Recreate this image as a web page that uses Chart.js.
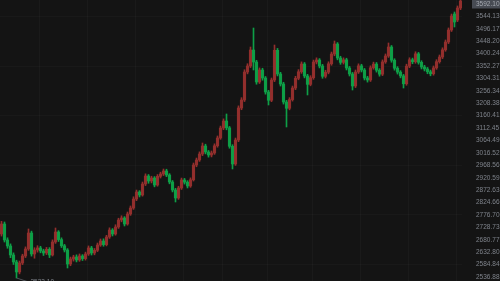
<!DOCTYPE html>
<html>
<head>
<meta charset="utf-8">
<script src="https://cdn.jsdelivr.net/npm/chart.js@4.4.1/dist/chart.umd.min.js"></script>
<style>
  html, body { margin: 0; padding: 0; background: #141414; }
  #wrap { width: 500px; height: 281px; position: relative; }
</style>
</head>
<body>
<div id="wrap"><canvas id="kline"></canvas></div>
<script>
// Preços diários (OHLC)
const opens = [
  2703.2, 2741.8, 2680.0, 2656.8, 2622.0, 2595.0, 2556.3, 2591.1, 2618.2, 2645.2,
  2707.0, 2625.9, 2641.3, 2649.1, 2637.5, 2629.7, 2644.0, 2622.0, 2672.3, 2710.9,
  2681.4, 2657.5, 2641.3, 2587.2, 2606.5, 2614.3, 2602.7, 2618.2, 2607.9, 2625.9,
  2649.1, 2629.7, 2640.2, 2660.6, 2676.1, 2662.0, 2691.6, 2718.6, 2703.2, 2730.2,
  2757.3, 2765.0, 2741.8, 2780.5, 2803.6, 2838.4, 2865.5, 2853.9, 2896.4, 2927.3,
  2908.0, 2919.6, 2892.5, 2926.0, 2935.1, 2946.7, 2931.2, 2904.1, 2873.2, 2842.3,
  2880.9, 2911.9, 2903.5, 2888.7, 2912.6, 2969.8, 2989.2, 3012.4, 3043.3, 3020.1,
  3008.5, 3016.2, 3044.0, 3074.2, 3112.8, 3139.9, 3113.5, 3042.0, 2973.7, 3066.5,
  3190.1, 3221.1, 3329.3, 3352.5, 3414.3, 3367.9, 3290.6, 3337.0, 3306.1, 3252.0,
  3220.0, 3298.4, 3413.0, 3321.6, 3282.9, 3213.3, 3189.0, 3222.5, 3267.4, 3305.0,
  3330.1, 3360.2, 3313.8, 3281.5, 3307.2, 3367.9, 3375.7, 3352.5, 3312.6, 3328.4,
  3361.0, 3398.8, 3437.5, 3383.4, 3366.5, 3376.4, 3344.7, 3321.6, 3275.2, 3329.3,
  3353.0, 3337.0, 3306.1, 3298.4, 3345.5, 3359.8, 3336.2, 3320.9, 3368.3, 3391.1,
  3425.9, 3374.8, 3343.9, 3328.8, 3314.2, 3283.7, 3351.9, 3376.6, 3368.8, 3399.5,
  3366.7, 3348.6, 3340.9, 3330.0, 3322.4, 3345.1, 3369.2, 3387.2, 3415.0, 3445.2,
  3491.6, 3553.5, 3530.3, 3576.6
];
const highs = [
  2752.0, 2749.5, 2688.4, 2664.9, 2630.2, 2601.8, 2598.6, 2624.9, 2653.3, 2722.5,
  2714.2, 2650.0, 2657.9, 2655.6, 2644.3, 2651.2, 2650.5, 2680.4, 2726.3, 2716.0,
  2688.3, 2663.0, 2646.7, 2613.9, 2621.0, 2622.5, 2626.0, 2623.4, 2633.1, 2657.0,
  2655.4, 2647.1, 2668.2, 2683.9, 2684.5, 2698.0, 2726.9, 2724.0, 2738.8, 2764.1,
  2773.5, 2770.2, 2788.0, 2811.4, 2846.9, 2873.0, 2870.8, 2904.0, 2935.6, 2933.0,
  2926.4, 2925.0, 2932.8, 2942.0, 2954.3, 2953.5, 2936.4, 2910.0, 2879.5, 2887.6,
  2919.3, 2918.0, 2909.2, 2920.1, 2977.5, 2996.8, 3020.5, 3054.9, 3050.2, 3026.0,
  3023.9, 3051.6, 3082.0, 3120.3, 3148.1, 3167.0, 3119.0, 3048.3, 3074.0, 3198.4,
  3230.0, 3338.0, 3361.2, 3425.9, 3499.3, 3374.5, 3345.1, 3343.8, 3312.0, 3258.4,
  3306.0, 3433.6, 3420.4, 3328.0, 3289.5, 3219.8, 3230.1, 3275.0, 3312.6, 3338.5,
  3368.4, 3366.0, 3320.3, 3315.0, 3375.4, 3384.0, 3381.2, 3358.8, 3336.0, 3368.7,
  3406.4, 3449.1, 3443.0, 3390.1, 3384.0, 3382.5, 3350.9, 3327.7, 3337.0, 3360.8,
  3359.2, 3343.0, 3312.7, 3353.1, 3367.4, 3366.0, 3342.3, 3376.0, 3399.0, 3441.4,
  3431.7, 3380.5, 3350.0, 3334.6, 3320.0, 3359.5, 3384.3, 3383.0, 3407.5, 3405.0,
  3372.8, 3355.2, 3347.0, 3336.7, 3352.6, 3376.8, 3395.0, 3422.8, 3453.0, 3499.5,
  3553.4, 3561.2, 3584.5, 3620.0
];
const lows = [
  2695.0, 2672.1, 2648.0, 2611.7, 2585.3, 2533.1, 2549.0, 2584.7, 2612.0, 2639.8,
  2617.6, 2609.5, 2633.0, 2630.4, 2620.1, 2623.5, 2611.9, 2618.0, 2666.7, 2674.2,
  2650.9, 2633.6, 2571.7, 2580.4, 2598.2, 2595.1, 2597.3, 2600.6, 2602.2, 2620.3,
  2621.8, 2622.6, 2635.0, 2655.3, 2655.8, 2657.1, 2686.0, 2695.4, 2698.5, 2724.6,
  2750.1, 2734.0, 2737.2, 2775.0, 2798.1, 2832.0, 2846.2, 2849.5, 2890.1, 2899.2,
  2900.5, 2885.3, 2887.9, 2919.4, 2929.0, 2924.8, 2897.0, 2865.7, 2826.8, 2837.0,
  2875.2, 2896.1, 2881.0, 2883.4, 2907.9, 2963.0, 2983.6, 3006.0, 3012.7, 3000.2,
  3001.0, 3010.8, 3038.5, 3068.9, 3106.4, 3105.8, 3034.6, 2954.4, 2968.1, 3060.0,
  3183.5, 3215.0, 3322.0, 3346.3, 3337.0, 3282.0, 3284.7, 3297.5, 3243.6, 3201.7,
  3214.5, 3292.0, 3314.0, 3275.1, 3205.2, 3116.7, 3183.0, 3216.8, 3261.0, 3299.2,
  3324.0, 3306.5, 3240.4, 3275.9, 3301.0, 3360.5, 3345.0, 3304.9, 3306.2, 3322.1,
  3355.3, 3392.0, 3376.2, 3358.9, 3360.0, 3337.1, 3313.8, 3259.7, 3269.1, 3323.5,
  3329.4, 3298.5, 3290.2, 3292.6, 3339.9, 3328.8, 3313.0, 3315.2, 3362.7, 3385.6,
  3367.0, 3336.4, 3321.3, 3306.7, 3267.4, 3278.0, 3346.0, 3361.2, 3363.0, 3359.5,
  3341.0, 3333.3, 3322.5, 3314.6, 3316.9, 3339.5, 3363.4, 3381.0, 3409.3, 3439.0,
  3485.8, 3503.2, 3524.0, 3570.2
];
const closes = [
  2741.8, 2680.0, 2656.8, 2622.0, 2595.0, 2556.3, 2591.1, 2618.2, 2645.2, 2707.0,
  2625.9, 2641.3, 2649.1, 2637.5, 2629.7, 2644.0, 2622.0, 2672.3, 2710.9, 2681.4,
  2657.5, 2641.3, 2587.2, 2606.5, 2614.3, 2602.7, 2618.2, 2607.9, 2625.9, 2649.1,
  2629.7, 2640.2, 2660.6, 2676.1, 2662.0, 2691.6, 2718.6, 2703.2, 2730.2, 2757.3,
  2765.0, 2741.8, 2780.5, 2803.6, 2838.4, 2865.5, 2853.9, 2896.4, 2927.3, 2908.0,
  2919.6, 2892.5, 2926.0, 2935.1, 2946.7, 2931.2, 2904.1, 2873.2, 2842.3, 2880.9,
  2911.9, 2903.5, 2888.7, 2912.6, 2969.8, 2989.2, 3012.4, 3043.3, 3020.1, 3008.5,
  3016.2, 3044.0, 3074.2, 3112.8, 3139.9, 3113.5, 3042.0, 2973.7, 3066.5, 3190.1,
  3221.1, 3329.3, 3352.5, 3414.3, 3367.9, 3290.6, 3337.0, 3306.1, 3252.0, 3220.0,
  3298.4, 3413.0, 3321.6, 3282.9, 3213.3, 3189.0, 3222.5, 3267.4, 3305.0, 3330.1,
  3360.2, 3313.8, 3281.5, 3307.2, 3367.9, 3375.7, 3352.5, 3312.6, 3328.4, 3361.0,
  3398.8, 3437.5, 3383.4, 3366.5, 3376.4, 3344.7, 3321.6, 3275.2, 3329.3, 3353.0,
  3337.0, 3306.1, 3298.4, 3345.5, 3359.8, 3336.2, 3320.9, 3368.3, 3391.1, 3425.9,
  3374.8, 3343.9, 3328.8, 3314.2, 3283.7, 3351.9, 3376.6, 3368.8, 3399.5, 3366.7,
  3348.6, 3340.9, 3330.0, 3322.4, 3345.1, 3369.2, 3387.2, 3415.0, 3445.2, 3491.6,
  3545.7, 3522.5, 3576.6, 3603.7
];

// Escala de preços do eixo direito
const priceTicks = [
  3592.10, 3544.13, 3496.17, 3448.20, 3400.24, 3352.27, 3304.31, 3256.34,
  3208.38, 3160.41, 3112.45, 3064.49, 3016.52, 2968.56, 2920.59, 2872.63,
  2824.66, 2776.70, 2728.73, 2680.77, 2632.80, 2584.84, 2536.88
];
const priceMin = 2521.42;
const priceMax = 3607.56;
const lastPrice = 3592.10;

// Linhas verticais da grade (índices dos candles)
const gridIdx = [13, 29, 45, 61, 74, 89, 104, 120, 136, 152];

const labels = closes.map((_, i) => i);

const corAlta = '#932f2d';   // vermelho = alta
const corBaixa = '#0e9f47';  // verde = baixa
const cores = closes.map((c, i) => c >= opens[i] ? corAlta : corBaixa);

const fonteEixo = '6.5px "Liberation Sans", Arial, sans-serif';

// Destaque do último preço + marcador da mínima
const extras = {
  id: 'extras',
  afterDraw(chart) {
    const { ctx, scales } = chart;
    const y = scales.y;
    const x = scales.x;
    ctx.save();

    // caixa do preço no topo do eixo
    const py = y.getPixelForValue(lastPrice);
    ctx.fillStyle = '#474b53';
    ctx.fillRect(x.right + 10, py - 4.5, chart.width - x.right - 10, 9);
    ctx.fillStyle = '#a4a8b0';
    ctx.font = fonteEixo;
    ctx.textAlign = 'left';
    ctx.textBaseline = 'middle';
    ctx.fillText(lastPrice.toFixed(2), x.right + 14, py);

    // mínima do período
    let iMin = 0;
    lows.forEach((l, i) => { if (l < lows[iMin]) iMin = i; });
    const mx = x.getPixelForValue(iMin);
    const my = y.getPixelForValue(lows[iMin]);
    ctx.strokeStyle = '#5d6168';
    ctx.lineWidth = 0.8;
    ctx.beginPath();
    ctx.moveTo(mx, my);
    ctx.lineTo(mx + 12, my + 4);
    ctx.stroke();
    ctx.fillStyle = '#7d8189';
    ctx.textAlign = 'left';
    ctx.textBaseline = 'top';
    ctx.fillText(lows[iMin].toFixed(2), mx + 14, my + 1);
    ctx.restore();
  }
};

new Chart(document.getElementById('kline'), {
  type: 'bar',
  data: {
    labels,
    datasets: [
      {
        // pavios (mínima -> máxima)
        data: lows.map((l, i) => [l, highs[i]]),
        backgroundColor: cores,
        barThickness: 1,
        grouped: false,
        borderWidth: 0
      },
      {
        // corpo (abertura -> fechamento)
        data: opens.map((o, i) => [o, closes[i]]),
        backgroundColor: cores,
        barThickness: 2.5,
        grouped: false,
        borderWidth: 0
      }
    ]
  },
  options: {
    responsive: true,
    maintainAspectRatio: false,
    animation: false,
    layout: { padding: 0 },
    plugins: {
      legend: { display: false },
      tooltip: { enabled: false }
    },
    scales: {
      x: {
        offset: true,
        border: { display: false },
        ticks: { display: false, autoSkip: false },
        grid: {
          drawTicks: false,
          color: ctx => gridIdx.includes(ctx.index) ? 'rgba(255,255,255,0.028)' : 'transparent'
        }
      },
      y: {
        position: 'right',
        min: priceMin,
        max: priceMax,
        afterBuildTicks: scale => {
          scale.ticks = priceTicks.map(v => ({ value: v }));
        },
        afterFit: scale => {
          // largura fixa e sem folga em cima/embaixo
          scale.width = 38;
          scale.paddingTop = 0;
          scale.paddingBottom = 0;
        },
        border: { display: false },
        grid: {
          drawTicks: false,
          color: ctx => ctx.index % 4 === 1 ? 'rgba(255,255,255,0.022)' : 'transparent'
        },
        ticks: {
          color: '#7f838b',
          padding: 14,
          crossAlign: 'near',
          font: { family: '"Liberation Sans", Arial, sans-serif', size: 6.5 },
          callback: v => v === lastPrice ? '' : Number(v).toFixed(2)
        }
      }
    }
  },
  plugins: [extras]
});
</script>
</body>
</html>
